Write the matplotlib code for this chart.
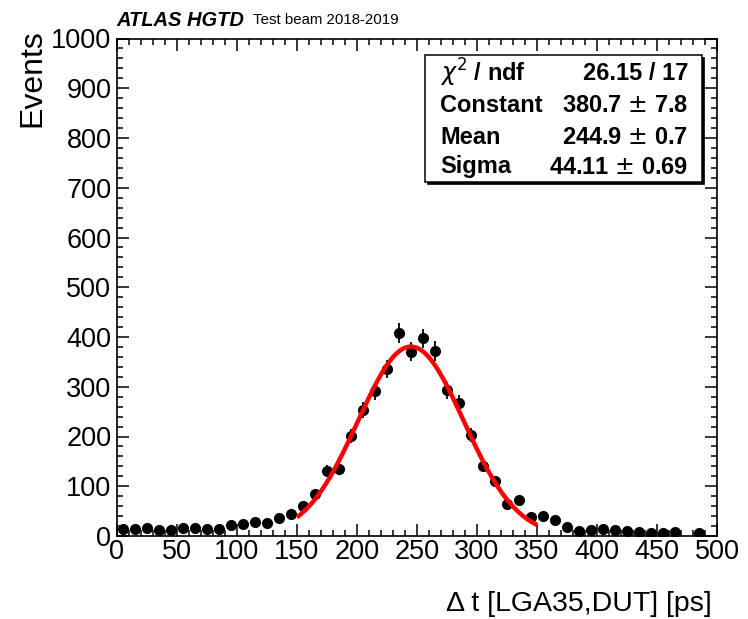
import numpy as np
import matplotlib
matplotlib.use("Agg")
import matplotlib.pyplot as plt
from matplotlib.patches import Rectangle
from matplotlib.ticker import MultipleLocator

plt.rcParams['font.family'] = ['Liberation Sans', 'DejaVu Sans']

# ---- data ----
bin_centers = [5, 15, 25, 35, 45, 55, 65, 75, 85, 95, 105, 115, 125, 135, 145,
               155, 165, 175, 185, 195, 205, 215, 225, 235, 245, 255, 265, 275,
               285, 295, 305, 315, 325, 335, 345, 355, 365, 375, 385, 395, 405,
               415, 425, 435, 445, 455, 465, 485]
events = [14, 14, 17, 13, 13, 17, 17, 15, 15, 23, 24, 29, 27, 37, 44,
          60, 84, 131, 135, 201, 253, 291, 335, 408, 370, 397, 372, 293,
          267, 203, 141, 111, 64, 72, 39, 40, 32, 19, 11, 12, 15,
          13, 11, 9, 7, 7, 9, 7]

fit_constant = 380.7
fit_mean = 244.9
fit_sigma = 44.11
fit_range = [150, 350]

stats_labels = [r"$\chi^{2}$ / ndf", "Constant", "Mean", "Sigma"]
stats_values = ["26.15 / 17", "380.7 $\\pm$ 7.8", "244.9 $\\pm$ 0.7", "44.11 $\\pm$ 0.69"]

x_label = "Δ t [LGA35,DUT] [ps]"
y_label = "Events"

# ---- figure ----
W, H = 748, 619
fig = plt.figure(figsize=(W / 100, H / 100), dpi=100)
ax = fig.add_axes([117 / W, 1 - 536 / H, (717 - 117) / W, (536 - 38.5) / H])

x = np.array(bin_centers, dtype=float)
y = np.array(events, dtype=float)
ax.errorbar(x, y, yerr=np.sqrt(y), fmt='o', color='black', markersize=7,
            elinewidth=1.3, capsize=0, zorder=3)

xf = np.linspace(fit_range[0], fit_range[1], 400)
yf = fit_constant * np.exp(-0.5 * ((xf - fit_mean) / fit_sigma) ** 2)
ax.plot(xf, yf, color='#ff0000', lw=3.2, solid_capstyle='butt', zorder=4)

ax.set_xlim(0, 500)
ax.set_ylim(0, 1000)
ax.xaxis.set_major_locator(MultipleLocator(50))
ax.xaxis.set_minor_locator(MultipleLocator(10))
ax.yaxis.set_major_locator(MultipleLocator(100))
ax.yaxis.set_minor_locator(MultipleLocator(20))
ax.tick_params(which='both', direction='in', top=True, right=True, width=1.1)
ax.tick_params(which='major', length=8.5, labelsize=19.5)
ax.tick_params(which='minor', length=4.5)
ax.tick_params(axis='x', which='major', pad=2)
ax.tick_params(axis='y', which='major', pad=4)
for s in ax.spines.values():
    s.set_linewidth(1.2)

fig.text(712 / W, 1 - 604 / H, x_label, ha='right', va='center', fontsize=20.5)
fig.text(32 / W, 1 - 29 / H, y_label, ha='center', va='top', rotation=90, fontsize=23)

# title
fig.text(116 / W, 1 - 20 / H, "ATLAS HGTD", fontsize=14.5, fontweight='bold',
         style='italic', ha='left', va='center')
fig.text(253 / W, 1 - 20 / H, "Test beam 2018-2019", fontsize=10.8,
         ha='left', va='center')

# stats box
bx0, bx1, by0, by1 = 425, 702, 55, 182
sh = 2
fig.patches.append(Rectangle(((bx0 + sh) / W, 1 - (by1 + sh) / H), (bx1 - bx0) / W,
                             (by1 - by0) / H, transform=fig.transFigure,
                             facecolor='black', edgecolor='black', lw=0.5, zorder=5))
fig.patches.append(Rectangle((bx0 / W, 1 - by1 / H), (bx1 - bx0) / W, (by1 - by0) / H,
                             transform=fig.transFigure, facecolor='white',
                             edgecolor='black', lw=1.1, zorder=6))
rows = [73, 106, 137, 167]
for lab, val, ry in zip(stats_labels, stats_values, rows):
    fig.text(440 / W, 1 - ry / H, lab, ha='left', va='center', fontsize=17,
             fontweight='bold', zorder=7)
    fig.text(688 / W, 1 - ry / H, val, ha='right', va='center', fontsize=17,
             fontweight='bold', zorder=7)

fig.savefig("out.png", dpi=100)
